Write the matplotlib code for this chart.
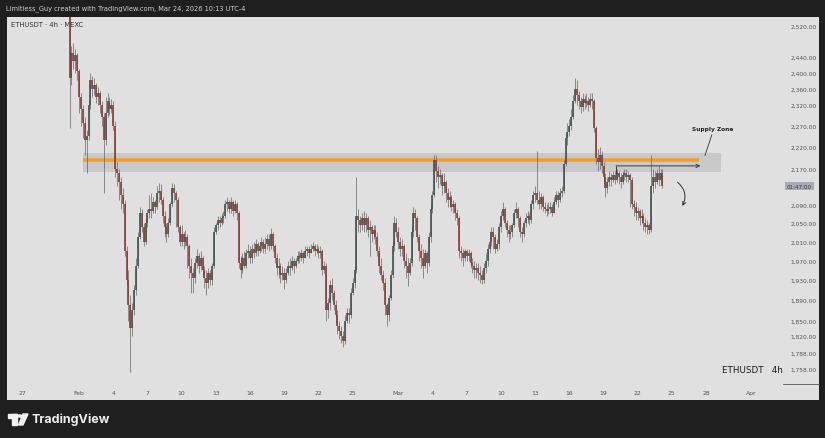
import numpy as np
import matplotlib
matplotlib.use('Agg')
import matplotlib.pyplot as plt
from matplotlib.transforms import blended_transform_factory
from matplotlib.patches import FancyArrowPatch, Rectangle, Circle, Polygon
from matplotlib.lines import Line2D

# ETHUSDT 4h candles, first candle Jan 31 04:00, one per 4 hours
closes = [
    2385, 2450, 2430, 2445, 2405,             # Jan 31
    2340, 2310, 2275, 2235, 2245, 2320,       # Feb 1
    2380, 2360, 2370, 2340, 2350, 2320,
    2290, 2235, 2300, 2330, 2310, 2320,
    2270, 2170, 2160, 2140, 2110, 2090,
    1990, 1930, 1880, 1835, 1870, 1910,       # Feb 5
    1960, 2020, 2070, 2040, 2010, 2050,
    2070, 2080, 2075, 2095, 2085, 2115,
    2120, 2100, 2065, 2040, 2025, 2050,
    2090, 2125, 2115, 2100, 2040, 2010,
    2025, 2010, 2020, 2000, 1960, 1945,       # Feb 10
    1935, 1965, 1980, 1960, 1975, 1950,
    1935, 1925, 1945, 1930, 1960, 2030,
    2045, 2055, 2050, 2060, 2065, 2090,
    2095, 2080, 2095, 2075, 2090, 2070,
    1965, 1950, 1975, 1960, 1985, 1990,       # Feb 15
    1975, 1995, 1985, 2005, 1990, 2000,
    2010, 1995, 2005, 2015, 2000, 2025,
    2000, 1975, 1955, 1960, 1940, 1945,
    1930, 1945, 1960, 1955, 1970, 1960,
    1970, 1980, 1975, 1985, 1975, 1990,       # Feb 20
    1995, 1985, 1995, 2000, 1990, 1995,
    1985, 1990, 1950, 1960, 1870, 1885,
    1920, 1905, 1880, 1860, 1840, 1830,
    1820, 1810, 1850, 1865, 1860, 1905,
    1925, 1950, 2065, 2055, 2045, 2060,       # Feb 25
    2045, 2060, 2035, 2040, 2025, 2035,
    2020, 1990, 1960, 1940, 1925, 1880,
    1860, 1895, 1940, 2000, 2050, 2030,
    2010, 1995, 2000, 1970, 1960, 1945,       # Mar 1
    1965, 2030, 2070, 2060, 2020, 1990,
    1975, 1960, 1985, 1965, 2020, 2080,
    2110, 2190, 2165, 2150, 2155, 2130,
    2140, 2115, 2100, 2105, 2085, 2090,       # Mar 5
    2070, 2060, 1990, 1985, 1975, 1990,
    1980, 1985, 1965, 1960, 1950, 1955,
    1945, 1940, 1930, 1955, 1970, 1995,
    2010, 2030, 2020, 1995, 2005, 2040,
    2065, 2080, 2050, 2035, 2025, 2030,       # Mar 10
    2045, 2070, 2080, 2060, 2030, 2025,
    2050, 2060, 2065, 2055, 2090, 2110,
    2115, 2100, 2090, 2105, 2085, 2080,
    2075, 2080, 2085, 2070, 2095, 2110,
    2100, 2115, 2120, 2180, 2240, 2255,       # Mar 15
    2270, 2290, 2330, 2360, 2345, 2330,
    2315, 2335, 2325, 2330, 2320, 2335,
    2330, 2265, 2195, 2185, 2200, 2175,
    2150, 2125, 2140, 2150, 2145, 2155,
    2145, 2160, 2150, 2140, 2155, 2160,       # Mar 20
    2150, 2155, 2145, 2090, 2085, 2070,
    2075, 2060, 2065, 2050, 2040, 2045,
    2035, 2130, 2150, 2140, 2160, 2145,
    2160, 2130,                               # Mar 24
]
highs = [
    2560, 2468, 2475, 2460, 2450,
    2410, 2350, 2320, 2290, 2260, 2330,
    2398, 2392, 2385, 2375, 2365, 2355,
    2330, 2300, 2340, 2348, 2340, 2335,
    2330, 2280, 2185, 2170, 2150, 2125,
    2100, 2000, 1950, 1900, 1885, 1920,
    1975, 2030, 2085, 2080, 2050, 2060,
    2080, 2110, 2115, 2105, 2100, 2130,
    2138, 2135, 2105, 2075, 2050, 2060,
    2095, 2138, 2135, 2120, 2105, 2045,
    2045, 2030, 2035, 2025, 2005, 1975,
    1955, 1975, 1995, 1985, 1990, 1980,
    1960, 1950, 1955, 1950, 1965, 2040,
    2050, 2065, 2065, 2070, 2075, 2100,
    2105, 2100, 2105, 2100, 2100, 2095,
    2075, 1980, 1985, 1990, 1995, 2005,
    2000, 2005, 2010, 2015, 2010, 2010,
    2020, 2015, 2020, 2025, 2025, 2038,
    2030, 2005, 1985, 1975, 1965, 1960,
    1955, 1955, 1970, 1975, 1980, 1975,
    1975, 1990, 1990, 1995, 1990, 2000,
    2000, 2000, 2005, 2010, 2005, 2005,
    2000, 2000, 1995, 1970, 1965, 1895,
    1930, 1935, 1910, 1890, 1870, 1850,
    1840, 1830, 1860, 1875, 1875, 1915,
    1935, 1960, 2150, 2080, 2065, 2070,
    2075, 2070, 2065, 2055, 2045, 2045,
    2045, 2030, 2000, 1975, 1950, 1935,
    1885, 1900, 1950, 2010, 2065, 2060,
    2040, 2020, 2015, 2005, 1985, 1975,
    1975, 2040, 2085, 2080, 2065, 2025,
    2005, 1995, 1995, 1990, 2030, 2090,
    2120, 2202, 2200, 2175, 2170, 2160,
    2160, 2145, 2125, 2120, 2110, 2100,
    2095, 2080, 2065, 2000, 1995, 1995,
    1995, 1995, 1990, 1975, 1970, 1965,
    1965, 1960, 1950, 1965, 1985, 2005,
    2020, 2040, 2040, 2025, 2015, 2050,
    2075, 2095, 2085, 2055, 2045, 2045,
    2050, 2080, 2095, 2085, 2065, 2040,
    2055, 2070, 2075, 2070, 2100, 2120,
    2130, 2210, 2120, 2115, 2110, 2095,
    2090, 2095, 2095, 2090, 2105, 2120,
    2120, 2125, 2130, 2190, 2250, 2275,
    2285, 2310, 2345, 2385, 2380, 2355,
    2340, 2350, 2345, 2350, 2340, 2350,
    2350, 2335, 2270, 2215, 2220, 2210,
    2185, 2160, 2150, 2165, 2160, 2165,
    2165, 2170, 2165, 2160, 2165, 2170,
    2170, 2165, 2160, 2150, 2100, 2095,
    2085, 2080, 2080, 2070, 2060, 2055,
    2050, 2200, 2170, 2165, 2170, 2175,
    2170, 2168,
]
lows = [
    2265, 2370, 2410, 2400, 2380,
    2300, 2270, 2240, 2200, 2160, 2235,
    2310, 2340, 2345, 2325, 2320, 2300,
    2270, 2115, 2225, 2290, 2295, 2300,
    2260, 2150, 2130, 2100, 2080, 2070,
    1980, 1920, 1850, 1752, 1820, 1860,
    1900, 1955, 2015, 2030, 2000, 2005,
    2040, 2060, 2060, 2070, 2070, 2080,
    2095, 2090, 2050, 2020, 2010, 2020,
    2045, 2085, 2095, 2040, 2030, 2000,
    2000, 1995, 2000, 1955, 1935, 1905,
    1905, 1925, 1955, 1945, 1950, 1940,
    1915, 1900, 1915, 1920, 1920, 1955,
    2025, 2035, 2040, 2045, 2050, 2060,
    2075, 2070, 2070, 2065, 2070, 2055,
    1955, 1935, 1945, 1955, 1955, 1975,
    1965, 1965, 1975, 1980, 1980, 1985,
    1990, 1985, 1985, 1995, 1990, 1995,
    1990, 1965, 1940, 1935, 1925, 1930,
    1912, 1925, 1940, 1940, 1950, 1945,
    1955, 1965, 1965, 1970, 1965, 1975,
    1980, 1975, 1985, 1990, 1980, 1985,
    1975, 1975, 1940, 1945, 1850, 1855,
    1870, 1890, 1870, 1845, 1825, 1815,
    1806, 1800, 1805, 1845, 1845, 1855,
    1900, 1915, 1945, 2030, 2030, 2035,
    2030, 2030, 2020, 1980, 2010, 2015,
    2005, 1980, 1945, 1930, 1910, 1860,
    1840, 1850, 1890, 1935, 1990, 2020,
    1995, 1980, 1980, 1955, 1935, 1918,
    1940, 1960, 2020, 2035, 2010, 1970,
    1955, 1935, 1955, 1945, 1960, 2010,
    2070, 2105, 2140, 2125, 2135, 2110,
    2115, 2095, 2085, 2085, 2075, 2070,
    2055, 2045, 1975, 1970, 1960, 1970,
    1970, 1970, 1955, 1945, 1935, 1935,
    1930, 1925, 1922, 1925, 1945, 1960,
    1985, 2000, 1995, 1985, 1990, 1995,
    2030, 2055, 2040, 2020, 2010, 2015,
    2020, 2040, 2060, 2040, 2020, 2010,
    2020, 2040, 2050, 2045, 2050, 2080,
    2095, 2090, 2080, 2080, 2075, 2070,
    2065, 2068, 2070, 2065, 2070, 2090,
    2085, 2095, 2105, 2115, 2175, 2225,
    2245, 2260, 2285, 2325, 2320, 2310,
    2300, 2305, 2310, 2315, 2305, 2315,
    2310, 2255, 2180, 2165, 2170, 2160,
    2135, 2105, 2115, 2130, 2130, 2140,
    2135, 2140, 2135, 2125, 2135, 2145,
    2140, 2140, 2085, 2080, 2065, 2055,
    2055, 2045, 2050, 2035, 2030, 2025,
    2025, 2030, 2115, 2125, 2135, 2130,
    2140, 2125,
]
first_open = 2550

# price axis labels (log scale) and date labels (days from Feb 1)
price_ticks = [2520, 2440, 2400, 2360, 2320, 2270, 2220, 2170, 2090, 2050,
               2010, 1970, 1930, 1890, 1850, 1820, 1788, 1758]
date_pos = [-5, 0, 3, 6, 9, 12, 15, 18, 21, 24, 28, 31, 34, 37, 40, 43, 46, 49, 52, 55, 59]
date_labels = ['27', 'Feb', '4', '7', '10', '13', '16', '19', '22', '25', 'Mar',
               '4', '7', '10', '13', '16', '19', '22', '25', '28', 'Apr']

# supply zone drawing
zone_low, zone_high = 2162, 2206
zone_start, zone_end = 0.35, 56.3
level = 2189
level_end = 54.4
range_price = 2176
range_start, range_end = 47.1, 54.5

W, H = 825, 439
BG = '#1f1f1f'
PANE = '#e0e0e0'

def fx(px):
    return px / W

def fy(py):
    return 1 - py / H

fig = plt.figure(figsize=(W / 100, H / 100), dpi=100, facecolor=BG)
ax = fig.add_axes([fx(7), fy(401), (819 - 7) / W, (401 - 18) / H])
ax.set_facecolor(PANE)
for s in ax.spines.values():
    s.set_visible(False)

ax.set_yscale('log')
ax.set_xlim(-6.32, 64.9)
ax.set_ylim(1702, 2544)

# candles
c = np.array(closes, dtype=float)
o = np.concatenate([[first_open], c[:-1]])
hi = np.maximum(np.array(highs, dtype=float), np.maximum(o, c))
lo = np.minimum(np.array(lows, dtype=float), np.minimum(o, c))
t = -20 / 24 + np.arange(len(c)) / 6
up = c >= o
up_col, dn_col = '#44524c', '#8a3d33'
ax.vlines(t, lo, hi, color='#666666', lw=0.5, zorder=3)
ax.vlines(t[up], o[up], c[up], color=up_col, lw=1.2, zorder=4)
ax.vlines(t[~up], c[~up], o[~up], color=dn_col, lw=1.2, zorder=4)

# supply zone + level
ax.fill_between([zone_start, zone_end], zone_low, zone_high, color='#c9c9c9', lw=0, zorder=1)
ax.hlines(level, zone_start, level_end, color='#f0a030', lw=2.6, zorder=2)

# range arrow
ax.vlines(range_start, 2157, range_price, color='#3a3a3a', lw=0.7, zorder=5)
ax.annotate('', xy=(range_end, range_price), xytext=(range_start, range_price),
            arrowprops=dict(arrowstyle='->', color='#3a3a3a', lw=0.7,
                            shrinkA=0, shrinkB=0, mutation_scale=6), zorder=5)

# curved arrow pointing down
ax.add_patch(FancyArrowPatch((52.3, 2143), (52.8, 2081),
                             connectionstyle='arc3,rad=-0.45', arrowstyle='->',
                             mutation_scale=6, color='#333333', lw=0.7, zorder=5))

# supply zone label
ax.text(55.6, 2262, 'Supply Zone', fontsize=4.2, fontweight='bold', color='#222222',
        ha='center', va='center')
ax.plot([55.5, 54.9], [2248, 2200], color='#333333', lw=0.6)

# axis ticks inside the pane
ax.set_yticks(price_ticks)
ax.set_yticklabels([f'{p:,.2f}' for p in price_ticks])
ax.yaxis.set_minor_locator(matplotlib.ticker.NullLocator())
ax.tick_params(axis='y', which='both', left=False, right=False, labelleft=False,
               labelright=True, pad=-24, labelsize=4.25, labelcolor='#555555')
ax.set_xticks(date_pos)
ax.set_xticklabels(date_labels)
ax.tick_params(axis='x', length=0, pad=-7.2, labelsize=4.4, labelcolor='#555555')

# countdown box for current price
yx = blended_transform_factory(ax.transAxes, ax.transData)
ax.text((787 - 7) / 812, c[-1], '01:47:00', transform=yx, fontsize=4.1,
        color='#3c3c48', va='center', ha='left',
        bbox=dict(boxstyle='square,pad=0.3', fc='#a8aab8', ec='none'))

# symbol info and watermark
ax.text((11 - 7) / 812, (401 - 25) / 383, 'ETHUSDT · 4h · MEXC', transform=ax.transAxes,
        fontsize=4.9, color='#333333', va='center')
ax.text((722 - 7) / 812, (401 - 371) / 383, 'ETHUSDT   4h', transform=ax.transAxes,
        fontsize=6.3, color='#1a1a1a', va='center')

# corner separator line
fig.add_artist(Line2D([fx(783), fx(819)], [fy(385), fy(385)], color='#555555', lw=0.6))

# header
fig.text(fx(6), fy(9), 'Limitless_Guy created with TradingView.com, Mar 24, 2026 10:13 UTC-4',
         fontsize=4.8, color='#cfcfcf', va='center')

# footer logo
logo = '#f0f0f0'
fig.add_artist(Rectangle((fx(8), fy(419)), fx(9), 4 / H, color=logo, transform=fig.transFigure))
fig.add_artist(Rectangle((fx(12), fy(426)), fx(5), 11 / H, color=logo, transform=fig.transFigure))
fig.add_artist(Circle((fx(20), fy(417)), 2 / W, color=logo, transform=fig.transFigure))
fig.add_artist(Polygon([(fx(23), fy(415)), (fx(28), fy(415)), (fx(23), fy(426)), (fx(18.5), fy(426))],
                       closed=True, color=logo, transform=fig.transFigure))
fig.text(fx(31), fy(420), 'TradingView', fontsize=9, fontweight='bold', color=logo,
         va='center', family='Inter')

plt.savefig('out.png', dpi=100, facecolor=BG)
